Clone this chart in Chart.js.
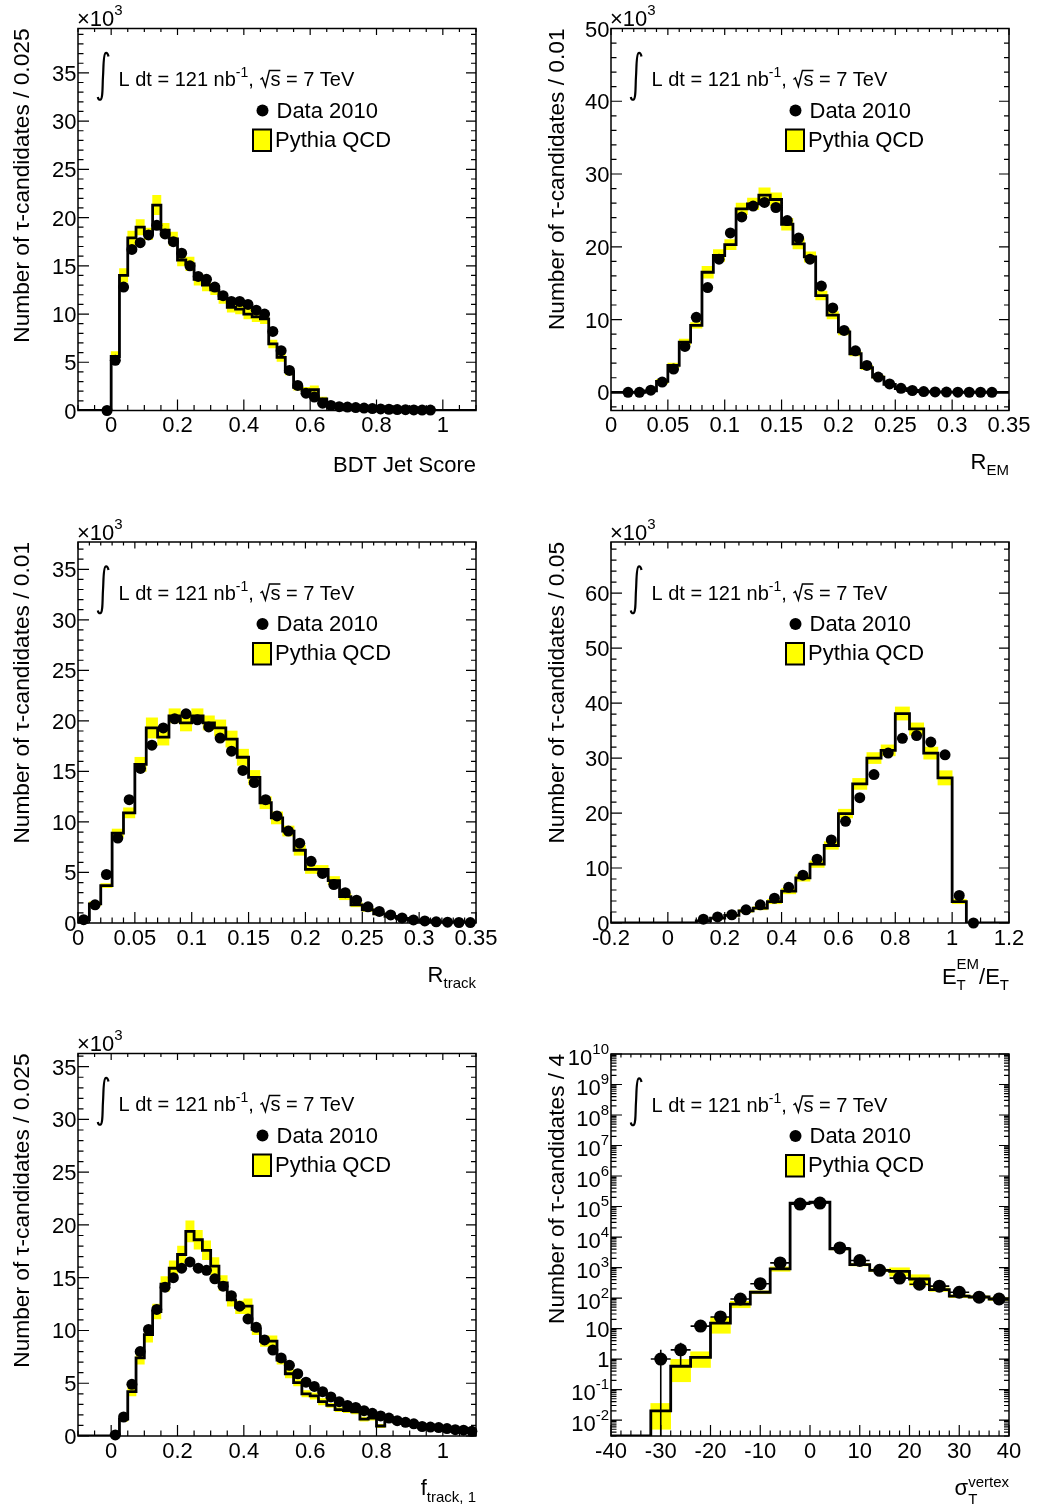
<!DOCTYPE html>
<html>
<head>
<meta charset="utf-8">
<script src="https://cdn.jsdelivr.net/npm/chart.js@4.4.1/dist/chart.umd.min.js"></script>
<style>
  body { margin: 0; background: #fff; }
  #wrap { position: relative; width: 1037px; height: 1506px; background: #fff; }
  canvas { position: absolute; left: 0; top: 0; }
</style>
</head>
<body>
<div id="wrap">
  <canvas id="c1" width="1037" height="1506"></canvas>
  <canvas id="c2" width="1037" height="1506"></canvas>
  <canvas id="c3" width="1037" height="1506"></canvas>
  <canvas id="c4" width="1037" height="1506"></canvas>
  <canvas id="c5" width="1037" height="1506"></canvas>
  <canvas id="c6" width="1037" height="1506"></canvas>
</div>
<script>
// ---- data (thousands of candidates per bin, except the vertex plot) ----

// BDT jet score, 48 bins of 0.025 from -0.1
const bdtData = [null, null, null, 0, 5.2, 12.8, 16.7, 17.4, 18.2, 19.2, 18.3, 17.5, 16.3, 15.0, 13.9, 13.6,
  12.8, 11.9, 11.3, 11.3, 11.0, 10.4, 10.0, 8.2, 6.2, 4.15, 2.6, 1.8, 1.4, 0.76, 0.52, 0.4,
  0.35, 0.3, 0.25, 0.2, 0.16, 0.13, 0.1, 0.08, 0.06, 0.05, 0.04, null, null, null, null, null];
const bdtMC = [0, 0, 0, 0, 5.6, 14.0, 17.9, 19.0, 18.3, 21.3, 18.7, 17.8, 15.6, 15.2, 13.6, 13.0,
  12.5, 11.6, 10.7, 10.5, 10.0, 9.7, 9.5, 6.9, 5.5, 4.0, 2.4, 2.1, 2.15, 1.2, 0.6, 0.4,
  0.32, 0.27, 0.22, 0.18, 0.15, 0.12, 0.1, 0.08, 0.06, 0.05, 0.04, 0, 0, 0, 0, 0];
const bdtErr = [0, 0, 0, 0, 0.5, 0.7, 0.7, 0.8, 0.6, 1.0, 0.7, 0.7, 0.6, 0.7, 0.6, 0.6,
  0.5, 0.5, 0.5, 0.5, 0.5, 0.5, 0.5, 0.4, 0.4, 0.3, 0.3, 0.3, 0.4, 0.2, 0.15, 0.1,
  0.1, 0.05, 0.05, 0.05, 0.05, 0.05, 0.05, 0.05, 0.05, 0.05, 0.05, 0, 0, 0, 0, 0];

// R_EM, 35 bins of 0.01 from 0
const remData = [null, 0, 0, 0.3, 1.4, 3.2, 6.3, 10.3, 14.4, 18.3, 21.9, 24.1, 25.6, 26.1, 25.4, 23.6,
  21.2, 18.3, 14.6, 11.6, 8.5, 5.7, 3.7, 2.1, 1.15, 0.55, 0.25, 0.1, 0.05, 0.03, 0.02, 0.01,
  0.01, 0, null];
const remMC = [0, 0, 0, 0.2, 1.5, 3.7, 6.9, 9.2, 16.5, 18.8, 20.3, 25.2, 25.9, 27.1, 26.5, 23.1,
  20.4, 18.6, 13.3, 10.6, 8.3, 5.3, 3.4, 2.1, 1.1, 0.5, 0.25, 0.1, 0.05, 0.03, 0.02, 0.01,
  0.01, 0, 0];
const remErr = [0, 0, 0, 0.05, 0.3, 0.3, 0.4, 0.4, 0.8, 0.8, 0.7, 0.8, 0.8, 1.0, 0.9, 0.8,
  0.7, 0.7, 0.6, 0.5, 0.4, 0.3, 0.3, 0.2, 0.1, 0.1, 0.05, 0.05, 0, 0, 0, 0,
  0, 0, 0];

// R_track, 35 bins of 0.01 from 0
const rtrkData = [0.33, 1.8, 4.8, 8.4, 12.2, 15.3, 17.6, 19.3, 20.2, 20.7, 20.1, 19.4, 18.3, 17.0, 15.1, 13.9,
  12.2, 10.6, 9.1, 7.9, 6.1, 4.9, 3.8, 3.0, 2.25, 1.6, 1.15, 0.8, 0.5, 0.3, 0.2, 0.12,
  0.08, 0.05, 0.04];
const rtrkMC = [0.3, 1.9, 3.7, 8.9, 10.9, 15.7, 19.3, 18.4, 20.5, 19.8, 20.5, 19.8, 19.3, 18.2, 16.4, 14.4,
  11.9, 10.4, 9.1, 7.2, 5.3, 5.3, 4.2, 2.6, 1.8, 1.3, 0.9, 0.65, 0.45, 0.28, 0.2, 0.12,
  0.08, 0.05, 0.04];
const rtrkErr = [0.1, 0.2, 0.2, 0.4, 0.5, 0.7, 1.0, 0.8, 0.7, 0.8, 0.7, 0.7, 0.8, 0.8, 0.8, 0.7,
  0.6, 0.6, 0.5, 0.5, 0.4, 0.4, 0.4, 0.3, 0.2, 0.15, 0.1, 0.1, 0.05, 0.05, 0.05, 0.05,
  0.05, 0.05, 0.05];

// E_T^EM / E_T, 28 bins of 0.05 from -0.2
const emfData = [null, null, null, null, null, null, 0.7, 1.1, 1.5, 2.4, 3.3, 4.5, 6.5, 8.7,
  11.6, 15.1, 18.5, 22.8, 27.0, 30.9, 33.6, 34.1, 32.9, 30.6, 5.0, 0, null, null];
const emfMC = [0, 0, 0, 0, 0, 0, 0.4, 0.9, 1.4, 2.2, 2.7, 3.9, 5.8, 8.2,
  10.7, 14.1, 19.9, 25.3, 30.0, 31.4, 38.1, 35.3, 30.9, 26.4, 3.9, 0, 0, 0];
const emfErr = [0, 0, 0, 0, 0, 0, 0.1, 0.15, 0.2, 0.25, 0.3, 0.4, 0.5, 0.6,
  0.6, 0.7, 0.8, 1.0, 1.0, 1.0, 1.2, 1.1, 1.1, 1.3, 0.4, 0, 0, 0];

// f_track,1, 48 bins of 0.025 from -0.1
const ftrkData = [null, null, null, null, 0.1, 1.8, 4.9, 8.0, 10.1, 12.0, 14.1, 15.0, 15.9, 16.5, 15.9, 15.7,
  14.9, 14.2, 13.3, 12.3, 11.1, 10.3, 9.1, 8.15, 7.4, 6.7, 5.9, 5.1, 4.7, 4.2, 3.7, 3.25,
  2.9, 2.7, 2.4, 2.15, 1.9, 1.7, 1.45, 1.3, 1.15, 0.9, 0.85, 0.8, 0.7, 0.6, 0.55, 0.45];
const ftrkMC = [0, 0, 0, 0, 0.1, 1.6, 4.2, 7.4, 9.6, 11.8, 14.4, 15.9, 17.2, 19.4, 18.6, 17.6,
  16.1, 14.5, 12.9, 12.2, 12.3, 10.1, 9.0, 9.0, 7.2, 5.9, 5.05, 4.0, 3.8, 3.25, 2.9, 2.5,
  2.4, 2.3, 1.6, 1.7, 0.95, 1.5, 1.35, 1.2, 1.05, 0.95, 0.85, 0.75, 0.7, 0.6, 0.55, 0.5];
const ftrkErr = [0, 0, 0, 0, 0.05, 0.2, 0.4, 0.6, 0.7, 0.7, 0.7, 0.7, 0.8, 1.0, 0.9, 0.9,
  0.8, 0.7, 0.6, 0.6, 0.7, 0.5, 0.5, 0.5, 0.4, 0.4, 0.3, 0.3, 0.3, 0.3, 0.2, 0.2,
  0.2, 0.2, 0.2, 0.2, 0.15, 0.15, 0.15, 0.1, 0.1, 0.1, 0.1, 0.1, 0.1, 0.1, 0.1, 0.1];

// sigma_T^vertex, 20 bins of 4 from -40 (candidates, log scale)
const vtxData = [null, null, 1, 2, 12, 24, 93, 295, 1420, 120000, 130000, 4400, 1700, 810, 450, 283, 245, 155, 107, 93];
const vtxDataErr = [null, null, 1, 1.4, 3.5, 4.9, 9.6, 17, 38, 350, 360, 66, 41, 28, 21, 17, 16, 12, 10, 10];
const vtxMC = [0, 0, 0.02, 0.58, 1.13, 15, 63, 155, 900, 130000, 140000, 4100, 1250, 810, 750, 420, 190, 115, 108, 93];
const vtxErr = [0, 0, 0.015, 0.4, 0.6, 8, 15, 17, 150, 5000, 5000, 300, 120, 80, 230, 160, 25, 12, 10, 10];

// ---- tick labels ----
const scoreTicks = [0, 0.2, 0.4, 0.6, 0.8, 1];
const scoreLabels = ['0', '0.2', '0.4', '0.6', '0.8', '1'];
const ratioTicks = [0, 0.05, 0.1, 0.15, 0.2, 0.25, 0.3, 0.35];
const ratioLabels = ['0', '0.05', '0.1', '0.15', '0.2', '0.25', '0.3', '0.35'];
const emfTicks = [-0.2, 0, 0.2, 0.4, 0.6, 0.8, 1, 1.2];
const emfLabels = ['-0.2', '0', '0.2', '0.4', '0.6', '0.8', '1', '1.2'];
const vtxTicks = [-40, -30, -20, -10, 0, 10, 20, 30, 40];
const vtxLabels = ['-40', '-30', '-20', '-10', '0', '10', '20', '30', '40'];
const count35Ticks = [0, 5, 10, 15, 20, 25, 30, 35];
const count35Labels = ['0', '5', '10', '15', '20', '25', '30', '35'];
const count50Ticks = [0, 10, 20, 30, 40, 50];
const count50Labels = ['0', '10', '20', '30', '40', '50'];
const count60Ticks = [0, 10, 20, 30, 40, 50, 60];
const count60Labels = ['0', '10', '20', '30', '40', '50', '60'];
const logTicks = [0.01, 0.1, 1, 10, 1e2, 1e3, 1e4, 1e5, 1e6, 1e7, 1e8, 1e9, 1e10];
const logLabels = ['10^-2', '10^-1', '1', '10', '10^2', '10^3', '10^4', '10^5', '10^6', '10^7', '10^8', '10^9', '10^10'];

const W = 1037, H = 1506;
const FONT = '"Liberation Sans", Arial, Helvetica, sans-serif';

// panel layout (frame edges in page pixels)
const panels = [
  { id: 'c1', L: 78, R: 476, T: 28.5, B: 410.5, xmin: -0.1, xmax: 1.1, ymin: 0, ymax: 39.6, binW: 0.025,
    data: bdtData, mc: bdtMC, err: bdtErr, xTicks: scoreTicks, xLabels: scoreLabels, xSub: 4,
    yTicks: count35Ticks, yLabels: count35Labels, ySub: 5, r: 5.5, exp: true,
    xTitle: [{ t: 'BDT Jet Score', s: 22 }], xTitleDy: 61,
    yTitle: 'Number of τ-candidates / 0.025', yTitleX: 29 },
  { id: 'c2', L: 611, R: 1009, T: 28.5, B: 410.5, xmin: 0, xmax: 0.35, ymin: -2.5, ymax: 50, binW: 0.01,
    data: remData, mc: remMC, err: remErr, xTicks: ratioTicks, xLabels: ratioLabels, xSub: 5,
    yTicks: count50Ticks, yLabels: count50Labels, ySub: 5, r: 5.5, exp: true,
    xTitle: [{ t: 'R', s: 22 }, { t: 'EM', s: 15, dy: 6.5 }], xTitleDy: 58,
    yTitle: 'Number of τ-candidates / 0.01', yTitleX: 564 },
  { id: 'c3', L: 78, R: 476, T: 542, B: 923, xmin: 0, xmax: 0.35, ymin: 0, ymax: 37.7, binW: 0.01,
    data: rtrkData, mc: rtrkMC, err: rtrkErr, xTicks: ratioTicks, xLabels: ratioLabels, xSub: 5,
    yTicks: count35Ticks, yLabels: count35Labels, ySub: 5, r: 5.5, exp: true,
    xTitle: [{ t: 'R', s: 22 }, { t: 'track', s: 15, dy: 6.5 }], xTitleDy: 58.5,
    yTitle: 'Number of τ-candidates / 0.01', yTitleX: 29 },
  { id: 'c4', L: 611, R: 1009, T: 542, B: 923, xmin: -0.2, xmax: 1.2, ymin: 0, ymax: 69.3, binW: 0.05,
    data: emfData, mc: emfMC, err: emfErr, xTicks: emfTicks, xLabels: emfLabels, xSub: 4,
    yTicks: count60Ticks, yLabels: count60Labels, ySub: 5, r: 5.5, exp: true,
    xTitle: [{ t: 'E', s: 22 }, { sup: 'EM', sub: 'T', s: 15, up: -15, down: 6.5 }, { t: '/E', s: 22 }, { t: 'T', s: 15, dy: 6.5 }],
    xTitleDy: 60.5, yTitle: 'Number of τ-candidates / 0.05', yTitleX: 564 },
  { id: 'c5', L: 78, R: 476, T: 1053.5, B: 1436, xmin: -0.1, xmax: 1.1, ymin: 0, ymax: 36.25, binW: 0.025,
    data: ftrkData, mc: ftrkMC, err: ftrkErr, xTicks: scoreTicks, xLabels: scoreLabels, xSub: 4,
    yTicks: count35Ticks, yLabels: count35Labels, ySub: 5, r: 5.5, exp: true,
    xTitle: [{ t: 'f', s: 22 }, { t: 'track, 1', s: 15, dy: 6.5 }], xTitleDy: 59,
    yTitle: 'Number of τ-candidates / 0.025', yTitleX: 29 },
  { id: 'c6', L: 611, R: 1009, T: 1054, B: 1436, xmin: -40, xmax: 40, ymin: 0.003, ymax: 1e10, binW: 4, log: true,
    data: vtxData, dataErr: vtxDataErr, mc: vtxMC, err: vtxErr, xTicks: vtxTicks, xLabels: vtxLabels, xSub: 5,
    yTicks: logTicks, yLabels: logLabels, r: 6.5, exp: false,
    xTitle: [{ t: 'σ', s: 22 }, { sup: 'vertex', sub: 'T', s: 15, up: -8, down: 9 }], xTitleDy: 59,
    yTitle: 'Number of τ-candidates / 4', yTitleX: 564 }
];

function setFont(ctx, s) { ctx.font = s + 'px ' + FONT; }

function partWidth(ctx, p) {
  setFont(ctx, p.s);
  if (p.sqrt) return 11 + ctx.measureText(p.sqrt).width;
  if (p.sup !== undefined) return Math.max(ctx.measureText(p.sup).width, ctx.measureText(p.sub).width);
  return ctx.measureText(p.t).width;
}

// text with sub/superscripts, left or right aligned at x, baseline y
function drawRich(ctx, x, y, parts, align) {
  let w = 0;
  parts.forEach(p => { w += partWidth(ctx, p); });
  let cx = align === 'right' ? x - w : (align === 'center' ? x - w / 2 : x);
  ctx.textAlign = 'left';
  ctx.textBaseline = 'alphabetic';
  for (const p of parts) {
    const pw = partWidth(ctx, p);
    setFont(ctx, p.s);
    if (p.sqrt) {
      ctx.lineWidth = 1.4;
      ctx.beginPath();
      ctx.moveTo(cx + 1, y - 6.5);
      ctx.lineTo(cx + 3, y - 8);
      ctx.lineTo(cx + 6, y + 0.5);
      ctx.lineTo(cx + 10, y - 15.5);
      ctx.lineTo(cx + pw, y - 15.5);
      ctx.stroke();
      ctx.fillText(p.sqrt, cx + 11, y);
    } else if (p.sup !== undefined) {
      ctx.fillText(p.sup, cx, y + p.up);
      ctx.fillText(p.sub, cx, y + p.down);
    } else {
      ctx.fillText(p.t, cx, y + (p.dy || 0));
    }
    cx += pw;
  }
}

function linearMinor(ticks, sub, min, max) {
  const step = (ticks[1] - ticks[0]) / sub;
  const out = [];
  for (let k = Math.ceil(min / step - 1e-6); k * step <= max + 1e-9; k++) out.push(k * step);
  return out;
}

function logMinor(min, max) {
  const out = [];
  for (let e = Math.floor(Math.log10(min)); e <= Math.ceil(Math.log10(max)); e++) {
    for (let m = 2; m <= 9; m++) {
      const v = m * Math.pow(10, e);
      if (v >= min && v <= max) out.push(v);
    }
  }
  return out;
}

function rootFrame(p) {
  return {
    id: 'rootFrame',
    afterDatasetsDraw(chart) {
      if (!p.dataErr) return;
      const ctx = chart.ctx, xs = chart.scales.x, ys = chart.scales.y;
      ctx.save();
      ctx.strokeStyle = '#000';
      ctx.lineWidth = 1.6;
      ctx.beginPath();
      p.data.forEach((v, i) => {
        if (v == null) return;
        const c = p.xmin + p.binW * (i + 0.5);
        const px = xs.getPixelForValue(c), py = ys.getPixelForValue(v);
        const e = p.dataErr[i];
        ctx.moveTo(px, ys.getPixelForValue(v + e));
        ctx.lineTo(px, ys.getPixelForValue(Math.max(v - e, p.ymin)));
        ctx.moveTo(xs.getPixelForValue(c - p.binW / 2), py);
        ctx.lineTo(xs.getPixelForValue(c + p.binW / 2), py);
      });
      ctx.stroke();
      ctx.restore();
    },
    afterDraw(chart) {
      const ctx = chart.ctx, a = chart.chartArea;
      const xs = chart.scales.x, ys = chart.scales.y;
      ctx.save();
      ctx.strokeStyle = '#000';
      ctx.fillStyle = '#000';

      // ticks on all four sides, pointing inward
      ctx.lineWidth = 1.2;
      ctx.beginPath();
      linearMinor(p.xTicks, p.xSub, p.xmin, p.xmax).forEach(v => {
        const px = xs.getPixelForValue(v);
        ctx.moveTo(px, a.bottom); ctx.lineTo(px, a.bottom - 5.5);
        ctx.moveTo(px, a.top); ctx.lineTo(px, a.top + 3.5);
      });
      p.xTicks.forEach(v => {
        const px = xs.getPixelForValue(v);
        ctx.moveTo(px, a.bottom); ctx.lineTo(px, a.bottom - 11);
        ctx.moveTo(px, a.top); ctx.lineTo(px, a.top + 6.5);
      });
      const yMinor = p.log ? logMinor(p.ymin, p.ymax) : linearMinor(p.yTicks, p.ySub, p.ymin, p.ymax);
      yMinor.forEach(v => {
        const py = ys.getPixelForValue(v);
        ctx.moveTo(a.left, py); ctx.lineTo(a.left + 5.5, py);
        ctx.moveTo(a.right, py); ctx.lineTo(a.right - 5, py);
      });
      p.yTicks.forEach(v => {
        const py = ys.getPixelForValue(v);
        ctx.moveTo(a.left, py); ctx.lineTo(a.left + 11, py);
        ctx.moveTo(a.right, py); ctx.lineTo(a.right - 10, py);
      });
      ctx.stroke();

      ctx.lineWidth = 1.5;
      ctx.strokeRect(a.left, a.top, a.right - a.left, a.bottom - a.top);

      // tick labels
      setFont(ctx, 22);
      ctx.textAlign = 'center';
      ctx.textBaseline = 'alphabetic';
      p.xTicks.forEach((v, i) => {
        ctx.fillText(p.xLabels[i], xs.getPixelForValue(v), a.bottom + 21.5);
      });
      p.yTicks.forEach((v, i) => {
        const py = ys.getPixelForValue(v);
        const lab = p.yLabels[i];
        if (lab.indexOf('^') >= 0) {
          const bits = lab.split('^');
          drawRich(ctx, a.left - 2, py, [{ t: bits[0], s: 22, dy: 10.5 }, { t: bits[1], s: 15, dy: -0.5 }], 'right');
        } else {
          drawRich(ctx, a.left - 1.5, py, [{ t: lab, s: 22, dy: 8 }], 'right');
        }
      });
      if (p.exp) {
        drawRich(ctx, a.left - 1, a.top - 2.5, [{ t: '×10', s: 22 }, { t: '3', s: 15, dy: -11 }], 'left');
      }

      // axis titles
      drawRich(ctx, a.right, a.bottom + p.xTitleDy, p.xTitle, 'right');
      ctx.save();
      ctx.translate(p.yTitleX, a.top);
      ctx.rotate(-Math.PI / 2);
      setFont(ctx, 22.7);
      ctx.textAlign = 'right';
      ctx.fillText(p.yTitle, 0, 0);
      ctx.restore();

      // luminosity label with integral sign
      const L = a.left, T = a.top;
      ctx.lineWidth = 2.2;
      ctx.beginPath();
      ctx.moveTo(L + 30.5, T + 28);
      ctx.quadraticCurveTo(L + 29.8, T + 24, L + 27.6, T + 24.5);
      ctx.bezierCurveTo(L + 25.2, T + 25.5, L + 25.6, T + 40, L + 25, T + 48);
      ctx.bezierCurveTo(L + 24.4, T + 57, L + 25, T + 70.5, L + 22.4, T + 71.2);
      ctx.quadraticCurveTo(L + 20.4, T + 71.6, L + 19.8, T + 68.5);
      ctx.stroke();
      drawRich(ctx, L + 40.5, T + 57.5, [
        { t: 'L dt = 121 nb', s: 20 }, { t: '-1', s: 14, dy: -9 }, { t: ', ', s: 20 },
        { sqrt: 's', s: 20 }, { t: ' = 7 TeV', s: 20 }
      ], 'left');

      // legend
      ctx.beginPath();
      ctx.arc(L + 184.5, T + 82, 6, 0, Math.PI * 2);
      ctx.fill();
      drawRich(ctx, L + 198.5, T + 89, [{ t: 'Data 2010', s: 22 }], 'left');
      ctx.fillStyle = '#ffff00';
      ctx.fillRect(L + 175, T + 101, 18, 21.5);
      ctx.fillStyle = '#000';
      ctx.lineWidth = 2;
      ctx.strokeRect(L + 175, T + 101, 18, 21.5);
      drawRich(ctx, L + 197, T + 118, [{ t: 'Pythia QCD', s: 22 }], 'left');

      ctx.restore();
    }
  };
}

panels.forEach(p => {
  const n = p.mc.length;
  // zero bins on the log plot sit on the bottom of the frame
  const lowY = v => (p.log ? Math.max(v, p.ymin) : v);
  const centers = p.mc.map((v, i) => p.xmin + p.binW * (i + 0.5));
  const band = p.mc.map((v, i) => ({
    x: centers[i],
    y: p.err[i] > 0 ? [lowY(v - p.err[i]), lowY(v + p.err[i])] : null
  }));
  const steps = p.mc.map((v, i) => ({ x: p.xmin + p.binW * i, y: lowY(v) }));
  steps.push({ x: p.xmin + p.binW * n, y: lowY(p.mc[n - 1]) });
  const points = p.data.map((v, i) => ({ x: centers[i], y: v }));

  new Chart(document.getElementById(p.id), {
    type: 'line',
    data: {
      datasets: [
        { type: 'scatter', data: points, order: 0, pointRadius: p.r, pointBackgroundColor: '#000',
          pointBorderWidth: 0, showLine: false, clip: false },
        { type: 'line', data: steps, order: 1, stepped: true, borderColor: '#000', borderWidth: 2.8,
          pointRadius: 0, fill: false },
        { type: 'bar', data: band, order: 2, backgroundColor: '#ffff00', borderWidth: 0,
          barPercentage: 1, categoryPercentage: 1 }
      ]
    },
    options: {
      responsive: false,
      animation: false,
      devicePixelRatio: 1,
      events: [],
      layout: { padding: { left: p.L, right: W - p.R, top: p.T, bottom: H - p.B } },
      plugins: { legend: { display: false }, tooltip: { enabled: false } },
      scales: {
        x: { type: 'linear', min: p.xmin, max: p.xmax, display: false, offset: false },
        y: { type: p.log ? 'logarithmic' : 'linear', min: p.ymin, max: p.ymax, display: false }
      }
    },
    plugins: [rootFrame(p)]
  });
});
</script>
</body>
</html>
